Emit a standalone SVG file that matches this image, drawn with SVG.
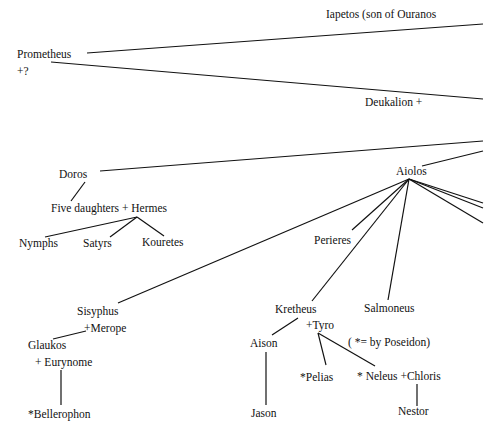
<svg xmlns="http://www.w3.org/2000/svg" width="497" height="438" viewBox="0 0 497 438">
<style>
text{font-family:"Liberation Serif","Times New Roman",serif;font-size:11.5px;fill:#111}
.c line{stroke:#111;stroke-width:1.2;fill:none}
</style>
<rect width="497" height="438" fill="#fff"/>
<g class="c" id="connectors">
<line x1="87" y1="53" x2="483" y2="24"/>
<line x1="51" y1="62" x2="483" y2="99"/>
<line x1="100" y1="171" x2="483" y2="141"/>
<line x1="422" y1="166" x2="483" y2="151"/>
<line x1="85" y1="182" x2="71" y2="201"/>
<line x1="137" y1="217" x2="45" y2="237"/>
<line x1="137" y1="217" x2="110" y2="237"/>
<line x1="137" y1="217" x2="164" y2="236"/>
<line x1="409" y1="179" x2="483" y2="203"/>
<line x1="409" y1="179" x2="483" y2="208"/>
<line x1="409" y1="179" x2="483" y2="223"/>
<line x1="409" y1="179" x2="118" y2="303"/>
<line x1="409" y1="179" x2="352" y2="230"/>
<line x1="409" y1="179" x2="312" y2="301"/>
<line x1="409" y1="179" x2="388" y2="300"/>
<line x1="53" y1="339" x2="86" y2="331"/>
<line x1="61" y1="370" x2="61" y2="405"/>
<line x1="298" y1="318" x2="272" y2="335"/>
<line x1="318" y1="333" x2="326" y2="365"/>
<line x1="318" y1="333" x2="375" y2="366"/>
<line x1="266" y1="352" x2="266" y2="405"/>
<line x1="417" y1="384" x2="417" y2="406"/>
</g>
<g id="iapetos"><text x="326" y="18">Iapetos (son of Ouranos</text></g>
<g id="prometheus"><text x="17" y="58">Prometheus</text><text x="17" y="75">+?</text></g>
<g id="deukalion"><text x="365" y="106">Deukalion +</text></g>
<g id="doros"><text x="59" y="178">Doros</text></g>
<g id="aiolos"><text x="396" y="175">Aiolos</text></g>
<g id="five-daughters"><text x="51" y="212">Five daughters + Hermes</text></g>
<g id="nymphs"><text x="19" y="247">Nymphs</text></g>
<g id="satyrs"><text x="83" y="247">Satyrs</text></g>
<g id="kouretes"><text x="142" y="246">Kouretes</text></g>
<g id="perieres"><text x="314" y="244">Perieres</text></g>
<g id="sisyphus"><text x="77" y="315">Sisyphus</text></g>
<g id="merope"><text x="84" y="332">+Merope</text></g>
<g id="glaukos"><text x="28" y="349">Glaukos</text></g>
<g id="eurynome"><text x="35" y="366">+ Eurynome</text></g>
<g id="bellerophon"><text x="28" y="418">*Bellerophon</text></g>
<g id="kretheus"><text x="275" y="313">Kretheus</text></g>
<g id="salmoneus"><text x="364" y="312">Salmoneus</text></g>
<g id="tyro"><text x="306" y="329">+Tyro</text></g>
<g id="aison"><text x="250" y="347">Aison</text></g>
<g id="note"><text x="348" y="346">( *= by Poseidon)</text></g>
<g id="pelias"><text x="300" y="381">*Pelias</text></g>
<g id="neleus"><text x="357" y="380">* Neleus +Chloris</text></g>
<g id="jason"><text x="251" y="417">Jason</text></g>
<g id="nestor"><text x="398" y="415">Nestor</text></g>
</svg>
